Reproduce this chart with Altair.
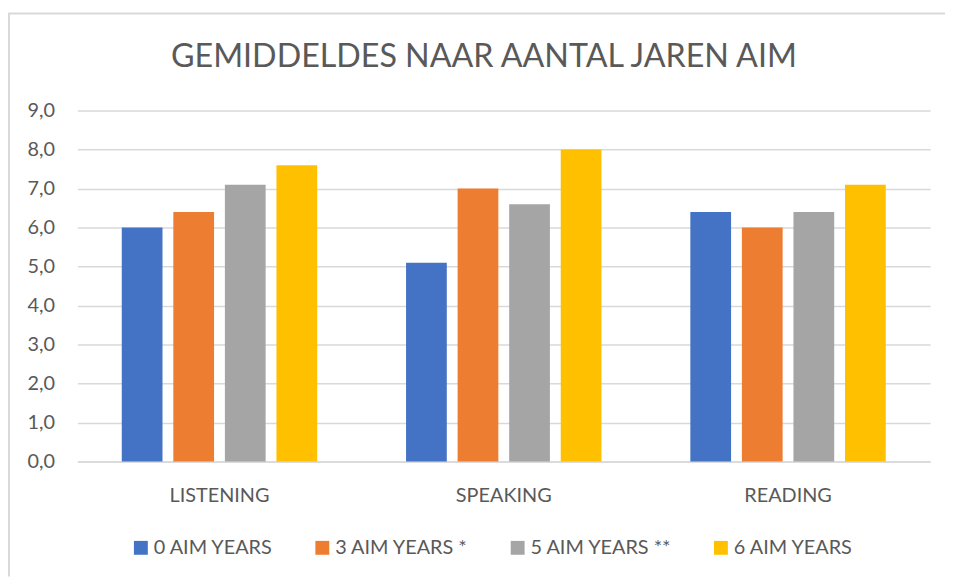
import altair as alt
import pandas as pd

categories = ["LISTENING", "SPEAKING", "READING"]
series = ["0 AIM YEARS", "3 AIM YEARS *", "5 AIM YEARS **", "6 AIM YEARS"]
values_0 = [6.0, 5.1, 6.4]
values_3 = [6.4, 7.0, 6.0]
values_5 = [7.1, 6.6, 6.4]
values_6 = [7.6, 8.0, 7.1]
colors = ["#4472C4", "#ED7D31", "#A5A5A5", "#FFC000"]
y_ticks = [0, 1, 2, 3, 4, 5, 6, 7, 8, 9]
title_text = "GEMIDDELDES NAAR AANTAL JAREN AIM"

rows = []
for s, vals in zip(series, [values_0, values_3, values_5, values_6]):
    for c, v in zip(categories, vals):
        rows.append({"category": c, "series": s, "value": v})
df = pd.DataFrame(rows)

FONT = "Lato"
TXT = "#595959"
GRID = "#D9D9D9"

bars = alt.Chart(df).mark_bar().encode(
    x=alt.X("category:N", sort=categories, title=None,
            scale=alt.Scale(paddingInner=0.2745, paddingOuter=0.137),
            axis=alt.Axis(labelAngle=0, labelFont=FONT, labelFontSize=20, labelColor=TXT,
                          labelPadding=24, ticks=False, domainColor=GRID, domainWidth=1.5)),
    xOffset=alt.XOffset("series:N", sort=series,
                        scale=alt.Scale(paddingInner=0.21, paddingOuter=0.105)),
    y=alt.Y("value:Q", title=None,
            scale=alt.Scale(domain=[0, 9], nice=False),
            axis=alt.Axis(values=y_ticks, labelExpr="replace(format(datum.value, '.1f'), '.', ',')",
                          labelFont=FONT, labelFontSize=20, labelColor=TXT, labelPadding=23,
                          ticks=False, domain=False, grid=True, gridColor=GRID, gridWidth=1.5)),
    color=alt.Color("series:N", sort=series,
                    scale=alt.Scale(domain=series, range=colors),
                    legend=alt.Legend(title=None, orient="none", direction="horizontal",
                                      legendX=54, legendY=431,
                                      symbolType="square", symbolSize=196, symbolStrokeWidth=0,
                                      labelFont=FONT, labelFontSize=20, labelColor=TXT,
                                      labelOffset=3, columnPadding=39)),
)

one = pd.DataFrame({"t": [title_text]})
title = alt.Chart(one).mark_text(font=FONT, fontSize=32.5, color=TXT, align="center",
                                 baseline="alphabetic").encode(
    text="t:N", x=alt.value(410), y=alt.value(-44))
border_top = alt.Chart(one).mark_rule(color=GRID, strokeWidth=2).encode(
    x=alt.value(-70), x2=alt.value(875), y=alt.value(-98))
border_left = alt.Chart(one).mark_rule(color=GRID, strokeWidth=2).encode(
    x=alt.value(-69), y=alt.value(-98), y2=alt.value(470))

chart = alt.layer(bars, title, border_top, border_left).properties(
    width=860, height=354,
    autosize=alt.AutoSizeParams(type="none"),
    padding={"left": 70, "top": 101, "right": 15, "bottom": 115},
).configure_view(stroke=None)

chart.save("out.html", embed_options={"renderer": "svg", "actions": False})
